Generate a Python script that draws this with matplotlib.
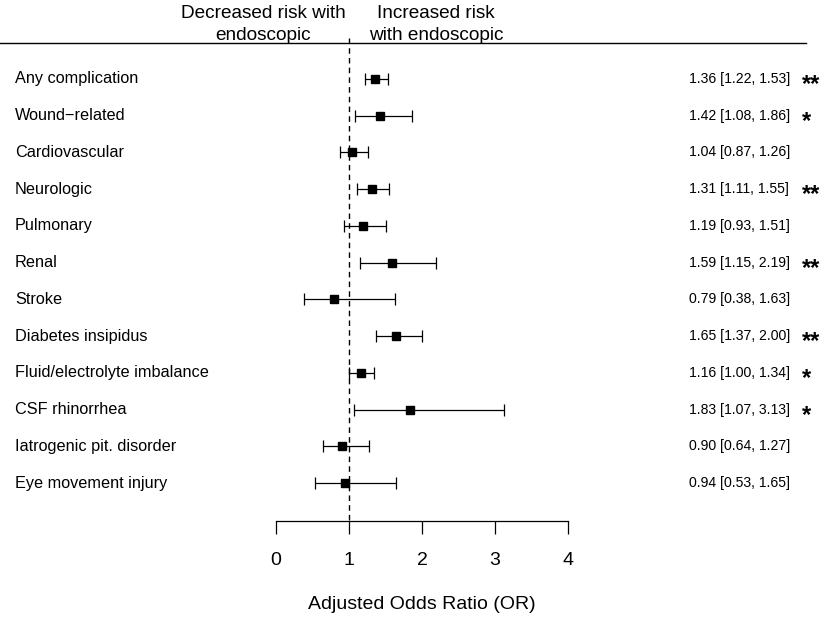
import matplotlib
matplotlib.use("Agg")
import matplotlib.pyplot as plt
from matplotlib.lines import Line2D
from matplotlib.transforms import blended_transform_factory

plt.rcParams['font.family'] = ['Liberation Sans', 'DejaVu Sans']

# data
outcomes = ["Any complication", "Wound\u2212related", "Cardiovascular", "Neurologic",
            "Pulmonary", "Renal", "Stroke", "Diabetes insipidus",
            "Fluid/electrolyte imbalance", "CSF rhinorrhea",
            "Iatrogenic pit. disorder", "Eye movement injury"]
odds = [1.36, 1.42, 1.04, 1.31, 1.19, 1.59, 0.79, 1.65, 1.16, 1.83, 0.90, 0.94]
ci_low = [1.22, 1.08, 0.87, 1.11, 0.93, 1.15, 0.38, 1.37, 1.00, 1.07, 0.64, 0.53]
ci_high = [1.53, 1.86, 1.26, 1.55, 1.51, 2.19, 1.63, 2.00, 1.34, 3.13, 1.27, 1.65]
stars = ["**", "*", "", "**", "", "**", "", "**", "*", "*", "", ""]
x_ticks = [0, 1, 2, 3, 4]

W, H = 827, 618
fig = plt.figure(figsize=(W / 100, H / 100), dpi=100)

# axes placed so that 0..4 spans the drawn axis line
ax = fig.add_axes([276 / W, (H - 521) / H, 292 / W, (521 - 43) / H])
row_px = 36.73
ax.set_xlim(0, 4)
ax.set_ylim((521 - 79) / row_px, (43 - 79) / row_px)

rows = list(range(len(outcomes)))
err = [[o - l for o, l in zip(odds, ci_low)], [h - o for o, h in zip(odds, ci_high)]]
ax.errorbar(odds, rows, xerr=err, fmt="s", color="black", ms=6.2,
            elinewidth=0.9, capsize=4.3, capthick=0.9, clip_on=False, zorder=3)

ax.vlines(1, (38 - 79) / row_px, (521 - 79) / row_px, colors="black",
          linestyles=(0, (4, 3)), linewidth=1.0, clip_on=False)

for side in ["top", "right", "left"]:
    ax.spines[side].set_visible(False)
ax.spines["bottom"].set_bounds(0, 4)
ax.spines["bottom"].set_linewidth(0.9)
ax.set_yticks([])
ax.set_xticks(x_ticks)
ax.tick_params(axis="x", length=9, width=0.9, pad=13, labelsize=14)
ax.set_xlabel("Adjusted Odds Ratio (OR)", fontsize=14, labelpad=20)

tr = blended_transform_factory(fig.transFigure, ax.transData)
for i, name in enumerate(outcomes):
    ax.text(15 / W, i, name, transform=tr, ha="left", va="center", fontsize=11.7)
    ax.text(689 / W, i, f"{odds[i]:.2f} [{ci_low[i]:.2f}, {ci_high[i]:.2f}]",
            transform=tr, ha="left", va="center", fontsize=10.1)
    if stars[i]:
        ax.text(802 / W, i + 0.15, stars[i], transform=tr, ha="left", va="center",
                fontsize=17, fontweight="bold")

fig.add_artist(Line2D([0, 806 / W], [(H - 43) / H, (H - 43) / H],
                      color="black", linewidth=1.0))
fig.text(263 / W, (H - 24.5) / H, "Decreased risk with\nendoscopic", ha="center",
         va="center", fontsize=13.7, linespacing=1.33)
fig.text(436 / W, (H - 24.5) / H, "Increased risk\nwith endoscopic", ha="center",
         va="center", fontsize=13.7, linespacing=1.33)

fig.savefig("out.png", dpi=100)
